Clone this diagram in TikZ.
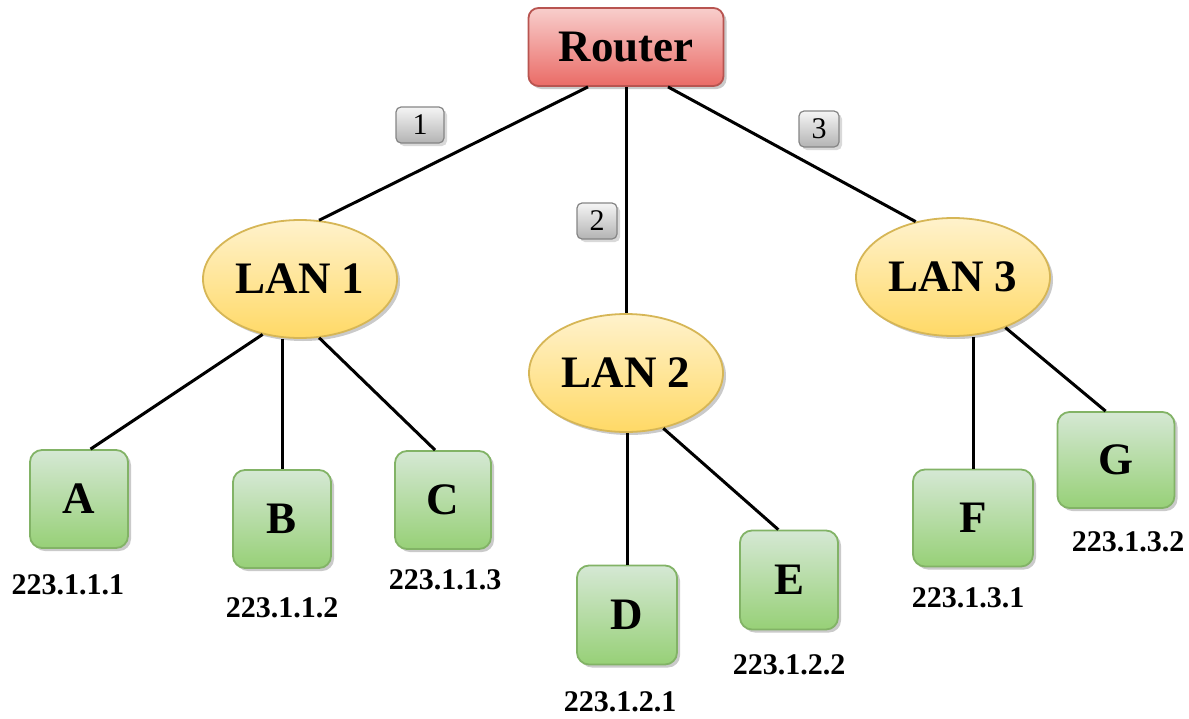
\documentclass[tikz,border=0pt]{standalone}
\usepackage{fontspec}
\setmainfont{Liberation Serif}
\usetikzlibrary{shapes.geometric,shadows,calc}
\definecolor{redtop}{HTML}{F8CECC}
\definecolor{redbot}{HTML}{EA6B66}
\definecolor{redline}{HTML}{B85450}
\definecolor{yeltop}{HTML}{FFF2CC}
\definecolor{yelbot}{HTML}{FFD966}
\definecolor{yelline}{HTML}{D6B656}
\definecolor{grntop}{HTML}{D5E8D4}
\definecolor{grnbot}{HTML}{97D077}
\definecolor{grnline}{HTML}{82B366}
\definecolor{graytop}{HTML}{F5F5F5}
\definecolor{graybot}{HTML}{B3B3B3}
\definecolor{grayline}{HTML}{666666}
\tikzset{
  base/.style={draw, line width=1.8pt, inner sep=0pt, drop shadow={shadow xshift=3pt, shadow yshift=-3pt, opacity=0.35, fill=black!60}},
  routerbox/.style={base, rounded corners=10pt, top color=redtop, bottom color=redbot, draw=redline,
     minimum width=195pt, minimum height=78pt, font=\fontsize{45}{45}\selectfont\bfseries},
  lanell/.style={base, ellipse, top color=yeltop, bottom color=yelbot, draw=yelline,
     minimum width=194pt, minimum height=118pt, font=\fontsize{45}{45}\selectfont\bfseries},
  hostbox/.style={base, rounded corners=12pt, top color=grntop, bottom color=grnbot, draw=grnline,
     font=\fontsize{45}{45}\selectfont\bfseries},
  numbox/.style={draw=grayline!80, line width=1.2pt, rounded corners=5pt, top color=graytop, bottom color=graybot,
     inner sep=0pt, minimum height=36pt, font=\fontsize{30}{30}\selectfont,
     drop shadow={shadow xshift=3pt, shadow yshift=-3pt, opacity=0.3, fill=black!50}},
  ip/.style={font=\fontsize{30}{30}\selectfont\bfseries, inner sep=0pt},
  link/.style={line width=3pt, black}
}
\begin{document}
\begin{tikzpicture}[x=1pt,y=-1pt]
\useasboundingbox (0,0) rectangle (1189,718);
% nodes
\node[routerbox] (router) at (626,47) {Router};
\node[lanell] (lan1) at (300,279) {LAN 1};
\node[lanell] (lan2) at (626,373) {LAN 2};
\node[lanell] (lan3) at (953,277) {LAN 3};
\node[hostbox, minimum width=98pt, minimum height=98pt] (a) at (79,499) {A};
\node[hostbox, minimum width=98pt, minimum height=98pt] (b) at (282,519) {B};
\node[hostbox, minimum width=96pt, minimum height=98pt] (c) at (443,500) {C};
\node[hostbox, minimum width=100pt, minimum height=99pt] (d) at (627,615) {D};
\node[hostbox, minimum width=98pt, minimum height=99pt] (e) at (789,580) {E};
\node[hostbox, minimum width=120pt, minimum height=97pt] (f) at (973,518) {F};
\node[hostbox, minimum width=117pt, minimum height=96pt] (g) at (1116,460) {G};
% number labels
\node[numbox, minimum width=48pt] (n1) at (420,125) {1};
\node[numbox, minimum width=40pt] (n2) at (597,221) {2};
\node[numbox, minimum width=40pt] (n3) at (819,129) {3};
% ip labels
\node[ip] (ipa) at (68,585) {223.1.1.1};
\node[ip] (ipb) at (282,608) {223.1.1.2};
\node[ip] (ipc) at (445,580) {223.1.1.3};
\node[ip] (ipd) at (620,702) {223.1.2.1};
\node[ip] (ipe) at (789,665) {223.1.2.2};
\node[ip] (ipf) at (968,598) {223.1.3.1};
\node[ip] (ipg) at (1128,542) {223.1.3.2};
% connectors
\draw[link] ($(router.south)+(-38,0)$) -- (lan1.72);
\draw[link] (router.south) -- (lan2.north);
\draw[link] ($(router.south)+(42,0)$) -- (lan3.124);
\draw[link] (lan1.-124) -- (a.77);
\draw[link] (b.north |- lan1.south) -- (b.north);
\draw[link] (lan1.-72) -- (c.99);
\draw[link] (d.north |- lan2.south) -- (d.north);
\draw[link] (lan2.-56) -- (e.102);
\draw[link] (f.north |- lan3.south) -- (f.north);
\draw[link] (lan3.-44) -- (g.102);
\end{tikzpicture}
\end{document}
